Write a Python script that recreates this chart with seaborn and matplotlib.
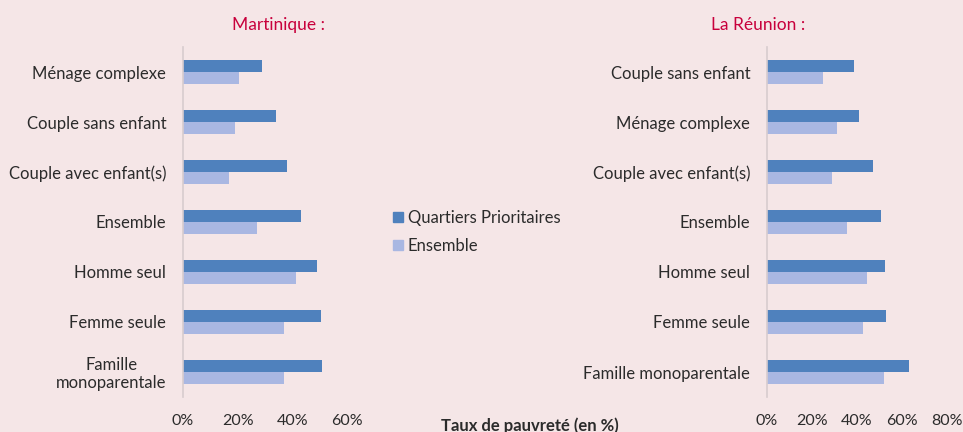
import numpy as np
import pandas as pd
import matplotlib.pyplot as plt
import seaborn as sns

# --------------------------
# Data (taux de pauvreté, %)
# --------------------------
mq_categories = ["Ménage complexe", "Couple sans enfant", "Couple avec enfant(s)", "Ensemble",
                 "Homme seul", "Femme seule", "Famille\nmonoparentale"]
mq_qp = [29, 34, 38, 43, 49, 50.5, 50.7]
mq_ens = [20.5, 19, 17, 27, 41.5, 37, 37]

re_categories = ["Couple sans enfant", "Ménage complexe", "Couple avec enfant(s)", "Ensemble",
                 "Homme seul", "Femme seule", "Famille monoparentale"]
re_qp = [38.5, 41, 47, 50.5, 52.5, 53, 63]
re_ens = [25, 31, 29, 35.5, 44.5, 42.5, 52]

series = ["Quartiers Prioritaires", "Ensemble"]
titles = ["Martinique :", "La Réunion :"]

BG = "#F5E6E7"
COLORS = ["#4F81BD", "#A9B7E2"]
TITLE_COLOR = "#C8003C"
TEXT = "#2B2B2B"


def to_long(cats, qp, ens):
    return pd.DataFrame({
        "cat": cats * 2,
        "serie": [series[0]] * len(cats) + [series[1]] * len(cats),
        "val": list(qp) + list(ens),
    })


sns.set_style("white")
plt.rcParams["font.family"] = ["Lato", "DejaVu Sans"]

W, H = 963, 432
fig = plt.figure(figsize=(W / 100, H / 100), dpi=100, facecolor=BG)

panels = [
    (to_long(mq_categories, mq_qp, mq_ens), 183, 347, 60, [0, 20, 40, 60], titles[0], 278),
    (to_long(re_categories, re_qp, re_ens), 767, 947, 80, [0, 20, 40, 60, 80], titles[1], 758),
]

for df, x0, x1, xmax, ticks, title, tx in panels:
    ax = fig.add_axes([x0 / W, 1 - 397 / H, (x1 - x0) / W, 350 / H])
    ax.set_facecolor(BG)
    sns.barplot(data=df, y="cat", x="val", hue="serie", palette=COLORS,
                orient="h", width=0.48, ax=ax, legend=False, saturation=1,
                linewidth=0)
    ax.set_xlim(0, xmax)
    ax.set_ylim(6.5, -0.5)
    ax.set_xticks(ticks)
    ax.set_xticklabels([f"{t}%" for t in ticks])
    ax.set_xlabel("")
    ax.set_ylabel("")
    ax.tick_params(axis="both", length=0, colors=TEXT)
    ax.tick_params(axis="x", pad=12, labelsize=11.5)
    ax.tick_params(axis="y", pad=12, labelsize=12)
    for s in ["top", "right", "bottom"]:
        ax.spines[s].set_visible(False)
    ax.spines["left"].set_color("#D8CCCE")
    ax.spines["left"].set_linewidth(1.2)
    if "\n" in df["cat"].iloc[-1]:
        for lab in ax.get_yticklabels():
            lab.set_multialignment("center")
            lab.set_linespacing(1.1)
    fig.text(tx / W, 1 - 25 / H, title, color=TITLE_COLOR, fontsize=12.5,
             ha="center", va="center")

# legend
handles = [plt.Line2D([], [], marker="s", linestyle="", markersize=7,
                      markerfacecolor=c, markeredgecolor=c) for c in COLORS]
fig.legend(handles, series, loc="upper left", bbox_to_anchor=(386 / W, 1 - 203 / H),
           frameon=False, fontsize=12, handlelength=0.6, handletextpad=0.3,
           labelspacing=0.75, borderaxespad=0, labelcolor=TEXT)

fig.text(530 / W, 1 - 426 / H, "Taux de pauvreté (en %)", fontsize=12,
         fontweight="bold", ha="center", va="center", color=TEXT)

plt.savefig("out.png", dpi=100, facecolor=BG)
